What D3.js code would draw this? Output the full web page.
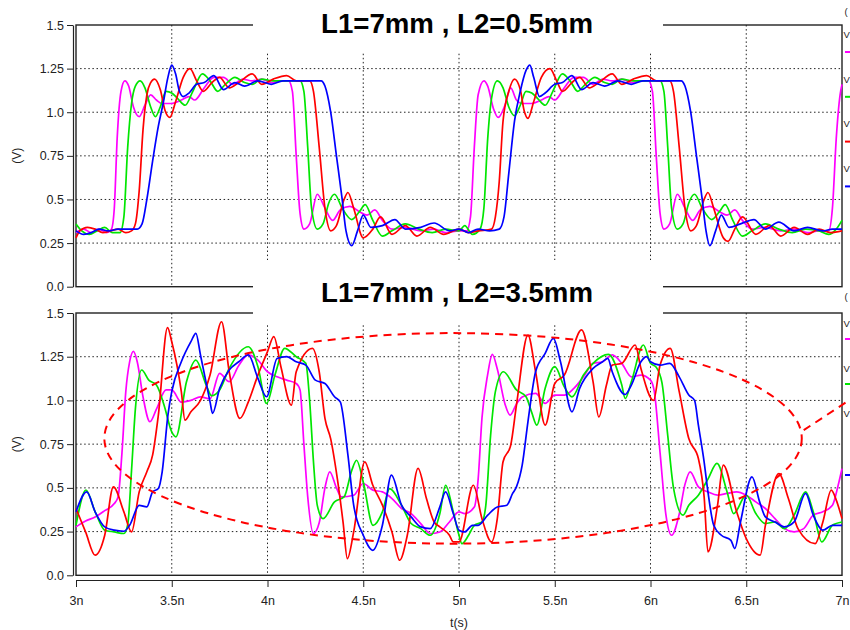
<!DOCTYPE html>
<html><head><meta charset="utf-8">
<script src="https://cdn.jsdelivr.net/npm/d3@7"></script>
<style>body{margin:0;background:#fff}svg{display:block}</style>
</head><body>
<svg id="c" width="850" height="630"></svg>
<script>
// ---------- DATA ----------
const titles = ["L1=7mm , L2=0.5mm", "L1=7mm , L2=3.5mm"];
const seriesNames = ["V1", "V2", "V3", "V4"];
const seriesColors = ["#ff00ff", "#00e600", "#ff0000", "#0000ff"];
const xTicks = [3, 3.5, 4, 4.5, 5, 5.5, 6, 6.5, 7];
const xTickLabels = ["3n", "3.5n", "4n", "4.5n", "5n", "5.5n", "6n", "6.5n", "7n"];
const yTicks = [0, 0.25, 0.5, 0.75, 1.0, 1.25, 1.5];
const yTickLabels = ["0.0", "0.25", "0.5", "0.75", "1.0", "1.25", "1.5"];
const xLabel = "t(s)";
const yLabel = "(V)";

// top panel (L2 = 0.5mm): [time ns, volts]
const topMagenta = [[3.00,0.31],[3.04,0.33],[3.08,0.31],[3.12,0.33],[3.16,0.31],[3.185,0.33],[3.20,0.45],[3.215,0.85],[3.235,1.12],[3.255,1.18],[3.275,1.15],[3.30,1.03],[3.33,0.975],[3.36,1.04],[3.39,1.10],[3.42,1.07],[3.45,1.05],[3.50,1.05],[3.55,1.07],[3.59,1.09],[3.62,1.07],[3.67,1.14],[3.72,1.20],[3.77,1.20],[3.82,1.16],[3.87,1.19],[3.92,1.18],[3.97,1.19],[4.02,1.17],[4.07,1.18],[4.11,1.18],[4.13,1.12],[4.15,0.75],[4.17,0.42],[4.19,0.33],[4.22,0.36],[4.26,0.53],[4.30,0.45],[4.34,0.38],[4.38,0.44],[4.43,0.46],[4.48,0.43],[4.52,0.41],[4.56,0.44],[4.60,0.38],[4.65,0.33],[4.72,0.34],[4.80,0.32],[4.87,0.33],[4.93,0.31],[5.00,0.32],[5.04,0.32],[5.06,0.40],[5.08,0.80],[5.10,1.10],[5.13,1.18],[5.15,1.15],[5.18,1.02],[5.205,0.97],[5.24,1.04],[5.27,1.14],[5.30,1.07],[5.33,1.05],[5.38,1.05],[5.43,1.07],[5.47,1.09],[5.50,1.07],[5.55,1.14],[5.60,1.20],[5.65,1.20],[5.70,1.16],[5.75,1.19],[5.80,1.18],[5.85,1.19],[5.90,1.17],[5.95,1.18],[5.99,1.18],[6.01,1.12],[6.03,0.75],[6.05,0.42],[6.07,0.33],[6.10,0.36],[6.14,0.53],[6.18,0.45],[6.22,0.38],[6.26,0.44],[6.31,0.46],[6.36,0.43],[6.40,0.41],[6.44,0.44],[6.48,0.38],[6.53,0.33],[6.60,0.34],[6.68,0.32],[6.75,0.33],[6.82,0.31],[6.88,0.32],[6.93,0.32],[6.95,0.45],[6.97,0.85],[6.99,1.10],[7.00,1.16]];
const topGreen = [[3.00,0.36],[3.03,0.32],[3.07,0.30],[3.11,0.32],[3.15,0.34],[3.19,0.31],[3.23,0.31],[3.25,0.40],[3.27,0.80],[3.29,1.05],[3.31,1.15],[3.335,1.18],[3.36,1.14],[3.39,1.03],[3.415,0.975],[3.44,1.03],[3.47,1.12],[3.50,1.11],[3.53,1.08],[3.57,1.04],[3.61,1.12],[3.66,1.22],[3.70,1.18],[3.74,1.12],[3.78,1.16],[3.83,1.20],[3.88,1.17],[3.92,1.16],[3.97,1.19],[4.03,1.18],[4.10,1.18],[4.17,1.18],[4.19,1.12],[4.21,0.80],[4.23,0.45],[4.26,0.33],[4.29,0.36],[4.32,0.48],[4.35,0.53],[4.39,0.45],[4.44,0.385],[4.48,0.43],[4.51,0.47],[4.55,0.38],[4.60,0.29],[4.65,0.32],[4.72,0.36],[4.79,0.33],[4.86,0.31],[4.93,0.33],[5.00,0.32],[5.03,0.35],[5.07,0.30],[5.11,0.33],[5.13,0.45],[5.15,0.85],[5.17,1.08],[5.20,1.18],[5.23,1.14],[5.26,1.03],[5.29,0.98],[5.32,1.04],[5.35,1.12],[5.38,1.11],[5.41,1.08],[5.45,1.04],[5.49,1.12],[5.54,1.22],[5.58,1.18],[5.62,1.12],[5.66,1.16],[5.71,1.20],[5.76,1.17],[5.80,1.16],[5.85,1.19],[5.91,1.18],[5.98,1.18],[6.05,1.18],[6.07,1.12],[6.09,0.80],[6.11,0.45],[6.14,0.33],[6.17,0.36],[6.20,0.48],[6.23,0.53],[6.27,0.45],[6.32,0.385],[6.36,0.43],[6.39,0.47],[6.43,0.38],[6.48,0.29],[6.53,0.32],[6.60,0.36],[6.67,0.33],[6.74,0.31],[6.81,0.33],[6.88,0.32],[6.93,0.30],[6.97,0.33],[7.00,0.38]];
const topRed = [[3.00,0.28],[3.02,0.32],[3.06,0.34],[3.10,0.33],[3.14,0.31],[3.18,0.32],[3.22,0.33],[3.26,0.31],[3.29,0.32],[3.31,0.36],[3.33,0.55],[3.35,0.90],[3.37,1.10],[3.39,1.17],[3.41,1.19],[3.44,1.13],[3.465,1.01],[3.49,0.97],[3.52,1.06],[3.56,1.20],[3.595,1.25],[3.63,1.18],[3.665,1.12],[3.71,1.17],[3.75,1.20],[3.80,1.14],[3.85,1.17],[3.92,1.22],[3.97,1.16],[4.03,1.19],[4.10,1.21],[4.15,1.18],[4.22,1.18],[4.24,1.12],[4.27,0.80],[4.30,0.45],[4.33,0.32],[4.36,0.35],[4.40,0.50],[4.42,0.54],[4.45,0.45],[4.50,0.28],[4.55,0.33],[4.59,0.40],[4.65,0.30],[4.72,0.35],[4.78,0.29],[4.85,0.34],[4.92,0.30],[5.00,0.33],[5.05,0.31],[5.10,0.32],[5.17,0.33],[5.19,0.40],[5.21,0.60],[5.23,0.95],[5.26,1.12],[5.29,1.19],[5.32,1.13],[5.34,1.01],[5.36,0.965],[5.39,1.06],[5.43,1.20],[5.475,1.25],[5.51,1.18],[5.54,1.12],[5.59,1.17],[5.63,1.20],[5.68,1.14],[5.73,1.17],[5.80,1.22],[5.85,1.16],[5.91,1.19],[5.98,1.21],[6.03,1.18],[6.10,1.18],[6.12,1.12],[6.15,0.80],[6.18,0.45],[6.21,0.32],[6.24,0.35],[6.28,0.50],[6.30,0.54],[6.33,0.45],[6.38,0.28],[6.405,0.26],[6.44,0.33],[6.48,0.40],[6.55,0.30],[6.62,0.35],[6.68,0.29],[6.75,0.34],[6.82,0.30],[6.88,0.33],[6.94,0.31],[7.00,0.32]];
const topBlue = [[3.00,0.32],[3.04,0.30],[3.08,0.31],[3.12,0.33],[3.17,0.32],[3.22,0.33],[3.27,0.33],[3.32,0.33],[3.345,0.36],[3.37,0.50],[3.40,0.72],[3.43,0.92],[3.455,1.05],[3.48,1.20],[3.50,1.27],[3.52,1.22],[3.54,1.12],[3.56,1.09],[3.59,1.11],[3.63,1.16],[3.67,1.17],[3.72,1.21],[3.77,1.13],[3.83,1.17],[3.88,1.15],[3.95,1.18],[4.02,1.16],[4.08,1.18],[4.15,1.18],[4.22,1.18],[4.28,1.18],[4.30,1.15],[4.33,1.00],[4.36,0.75],[4.39,0.50],[4.41,0.32],[4.44,0.235],[4.47,0.32],[4.50,0.41],[4.54,0.34],[4.60,0.35],[4.665,0.385],[4.72,0.33],[4.80,0.34],[4.87,0.365],[4.95,0.32],[5.00,0.33],[5.05,0.31],[5.10,0.33],[5.16,0.32],[5.21,0.33],[5.235,0.40],[5.26,0.65],[5.29,0.95],[5.32,1.12],[5.35,1.24],[5.37,1.27],[5.39,1.20],[5.42,1.09],[5.45,1.11],[5.50,1.16],[5.54,1.17],[5.59,1.21],[5.64,1.13],[5.70,1.17],[5.76,1.15],[5.83,1.18],[5.90,1.16],[5.96,1.18],[6.03,1.18],[6.10,1.18],[6.16,1.18],[6.18,1.15],[6.21,1.00],[6.24,0.75],[6.27,0.50],[6.29,0.32],[6.31,0.235],[6.34,0.32],[6.37,0.41],[6.41,0.34],[6.47,0.36],[6.54,0.385],[6.60,0.33],[6.67,0.37],[6.75,0.32],[6.82,0.34],[6.90,0.32],[6.95,0.33],[7.00,0.33]];

// bottom panel (L2 = 3.5mm)
const botMagenta = [[3.00,0.277],[3.05,0.31],[3.10,0.334],[3.15,0.37],[3.20,0.41],[3.22,0.45],[3.24,0.70],[3.26,1.05],[3.28,1.22],[3.30,1.28],[3.32,1.22],[3.35,1.02],[3.386,0.878],[3.42,0.95],[3.47,1.06],[3.50,1.06],[3.55,0.99],[3.60,1.00],[3.65,1.02],[3.70,1.01],[3.75,1.155],[3.80,1.107],[3.85,1.20],[3.90,1.26],[3.95,1.23],[4.00,1.164],[4.05,1.135],[4.10,1.116],[4.15,1.097],[4.17,1.06],[4.19,0.75],[4.21,0.45],[4.24,0.239],[4.27,0.30],[4.30,0.50],[4.325,0.592],[4.36,0.50],[4.386,0.448],[4.45,0.458],[4.50,0.525],[4.55,0.487],[4.60,0.477],[4.65,0.439],[4.70,0.382],[4.75,0.353],[4.80,0.296],[4.85,0.239],[4.90,0.248],[4.95,0.305],[5.00,0.363],[5.03,0.353],[5.08,0.39],[5.10,0.55],[5.12,0.90],[5.15,1.15],[5.174,1.263],[5.20,1.18],[5.24,0.98],[5.267,0.916],[5.30,0.98],[5.33,1.02],[5.40,1.04],[5.45,0.983],[5.50,1.03],[5.55,1.03],[5.60,1.069],[5.65,1.135],[5.70,1.212],[5.75,1.221],[5.80,1.26],[5.85,1.212],[5.90,1.135],[5.95,1.145],[6.00,1.116],[6.02,1.05],[6.05,0.70],[6.08,0.35],[6.11,0.229],[6.15,0.35],[6.18,0.52],[6.207,0.592],[6.25,0.506],[6.30,0.477],[6.35,0.458],[6.40,0.468],[6.45,0.477],[6.50,0.458],[6.55,0.42],[6.60,0.382],[6.65,0.324],[6.70,0.267],[6.75,0.248],[6.80,0.267],[6.85,0.344],[6.90,0.363],[6.95,0.40],[6.98,0.515],[7.00,0.61]];
const botGreen = [[3.00,0.286],[3.052,0.487],[3.10,0.363],[3.15,0.258],[3.20,0.248],[3.25,0.239],[3.27,0.29],[3.29,0.60],[3.31,0.95],[3.343,1.174],[3.38,1.116],[3.42,1.088],[3.46,0.973],[3.50,0.82],[3.522,0.792],[3.577,1.107],[3.626,1.231],[3.68,1.088],[3.708,1.027],[3.75,1.06],[3.80,1.183],[3.90,1.307],[3.95,1.193],[3.995,0.983],[4.04,1.15],[4.09,1.298],[4.15,1.25],[4.20,1.212],[4.22,1.0],[4.24,0.65],[4.26,0.40],[4.29,0.324],[4.35,0.42],[4.40,0.448],[4.44,0.60],[4.465,0.658],[4.50,0.534],[4.551,0.286],[4.60,0.363],[4.638,0.496],[4.70,0.40],[4.75,0.296],[4.80,0.267],[4.85,0.229],[4.90,0.353],[4.93,0.515],[4.97,0.363],[5.00,0.229],[5.015,0.181],[5.05,0.229],[5.08,0.286],[5.12,0.305],[5.14,0.40],[5.165,0.80],[5.19,1.05],[5.232,1.164],[5.30,1.06],[5.35,1.021],[5.38,0.93],[5.406,0.859],[5.45,1.07],[5.50,1.193],[5.55,1.078],[5.59,1.02],[5.65,1.145],[5.70,1.212],[5.78,1.263],[5.85,1.088],[5.868,1.011],[5.90,1.107],[5.963,1.317],[6.00,1.212],[6.03,1.19],[6.06,1.10],[6.09,0.80],[6.12,0.50],[6.17,0.344],[6.20,0.40],[6.25,0.458],[6.30,0.55],[6.347,0.64],[6.40,0.477],[6.434,0.353],[6.50,0.458],[6.55,0.353],[6.60,0.296],[6.65,0.305],[6.70,0.267],[6.75,0.344],[6.81,0.477],[6.85,0.363],[6.895,0.191],[6.95,0.286],[7.00,0.305]];
const botRed = [[3.00,0.382],[3.05,0.248],[3.10,0.115],[3.15,0.229],[3.195,0.506],[3.25,0.363],[3.29,0.248],[3.33,0.477],[3.37,0.592],[3.40,0.687],[3.43,0.916],[3.478,1.416],[3.50,1.336],[3.55,1.05],[3.569,0.887],[3.60,0.935],[3.65,1.0],[3.70,1.145],[3.76,1.45],[3.80,1.164],[3.856,0.897],[3.90,0.992],[3.95,1.145],[4.00,1.279],[4.033,1.365],[4.07,1.193],[4.125,0.973],[4.15,1.164],[4.235,1.298],[4.27,1.164],[4.30,0.897],[4.33,0.78],[4.365,0.55],[4.395,0.30],[4.417,0.095],[4.45,0.248],[4.508,0.649],[4.55,0.515],[4.60,0.401],[4.65,0.248],[4.69,0.086],[4.73,0.229],[4.786,0.611],[4.83,0.439],[4.87,0.305],[4.90,0.277],[4.95,0.229],[4.97,0.191],[5.00,0.191],[5.075,0.515],[5.12,0.324],[5.17,0.191],[5.20,0.324],[5.23,0.649],[5.27,0.744],[5.30,0.973],[5.36,1.374],[5.40,1.164],[5.45,0.859],[5.50,1.097],[5.55,1.145],[5.64,1.403],[5.70,1.107],[5.73,0.906],[5.77,1.088],[5.80,1.202],[5.85,1.212],[5.92,1.317],[5.95,1.183],[6.016,1.0],[6.05,1.202],[6.103,1.298],[6.15,1.05],[6.20,0.782],[6.25,0.668],[6.28,0.45],[6.30,0.134],[6.35,0.40],[6.38,0.63],[6.45,0.363],[6.50,0.21],[6.573,0.115],[6.60,0.286],[6.67,0.582],[6.72,0.439],[6.77,0.267],[6.86,0.181],[6.90,0.305],[6.944,0.487],[6.97,0.43],[7.00,0.324]];
const botBlue = [[3.00,0.363],[3.056,0.477],[3.10,0.363],[3.15,0.277],[3.20,0.258],[3.25,0.252],[3.28,0.286],[3.33,0.40],[3.37,0.391],[3.40,0.477],[3.43,0.496],[3.45,0.592],[3.48,0.916],[3.50,1.05],[3.55,1.221],[3.60,1.336],[3.626,1.384],[3.65,1.26],[3.70,0.992],[3.713,0.926],[3.75,1.069],[3.80,1.174],[3.85,1.221],[3.90,1.26],[3.95,1.126],[3.995,1.021],[4.05,1.24],[4.10,1.25],[4.15,1.221],[4.20,1.202],[4.25,1.116],[4.30,1.097],[4.35,1.021],[4.38,0.992],[4.42,0.687],[4.45,0.401],[4.50,0.229],[4.55,0.143],[4.60,0.286],[4.647,0.573],[4.70,0.401],[4.75,0.334],[4.80,0.277],[4.85,0.267],[4.90,0.391],[4.93,0.477],[4.97,0.353],[5.00,0.258],[5.03,0.248],[5.07,0.286],[5.10,0.286],[5.15,0.344],[5.20,0.391],[5.25,0.401],[5.28,0.468],[5.30,0.506],[5.33,0.63],[5.36,0.878],[5.40,1.164],[5.45,1.269],[5.493,1.355],[5.53,1.221],[5.59,0.935],[5.63,1.069],[5.70,1.183],[5.75,1.221],[5.777,1.24],[5.80,1.164],[5.868,1.034],[5.90,1.088],[5.95,1.221],[5.98,1.25],[6.00,1.221],[6.05,1.202],[6.10,1.212],[6.15,1.135],[6.20,1.031],[6.23,1.0],[6.25,0.859],[6.28,0.649],[6.30,0.477],[6.33,0.286],[6.37,0.229],[6.42,0.20],[6.44,0.153],[6.47,0.305],[6.53,0.563],[6.57,0.42],[6.60,0.334],[6.65,0.305],[6.70,0.277],[6.75,0.305],[6.81,0.468],[6.85,0.344],[6.90,0.258],[6.95,0.286],[7.00,0.286]];

// dashed annotation ellipse in bottom panel: centre (ns, V) and radii (ns, V)
const ellipseCenter = [4.969, 0.783];
const ellipseRadii = [1.821, 0.602];
const annotationLine = [[6.80, 0.83], [7.05, 1.01]];

// ---------- DRAW ----------
const svg = d3.select("#c");
const X0 = 76, X1 = 842;
const x = d3.scaleLinear().domain([3, 7]).range([X0, X1]);
const panels = [
  { y: d3.scaleLinear().domain([0, 1.5]).range([286.7, 25]), series: [topMagenta, topGreen, topRed, topBlue], title: titles[0] },
  { y: d3.scaleLinear().domain([0, 1.5]).range([575.3, 313]), series: [botMagenta, botGreen, botRed, botBlue], title: titles[1] }
];
const gridX = xTicks.filter(d => d > 3 && d < 7);
const gridY = yTicks.filter(d => d > 0 && d < 1.5);
const txtFont = "'Liberation Sans', Arial, sans-serif";

panels.forEach((p, pi) => {
  const g = svg.append("g");
  const [yb, yt] = p.y.range();
  // grid
  g.selectAll(".gx").data(gridX).join("line")
    .attr("x1", d => x(d)).attr("x2", d => x(d)).attr("y1", yt).attr("y2", yb)
    .attr("stroke", "#222").attr("stroke-width", 1).attr("stroke-dasharray", "1.5,2.6");
  g.selectAll(".gy").data(gridY).join("line")
    .attr("x1", X0).attr("x2", X1).attr("y1", d => p.y(d)).attr("y2", d => p.y(d))
    .attr("stroke", "#222").attr("stroke-width", 1).attr("stroke-dasharray", "1.5,2.6");
  // frame
  g.append("rect").attr("x", X0).attr("y", yt).attr("width", X1 - X0).attr("height", yb - yt)
    .attr("fill", "none").attr("stroke", "#222").attr("stroke-width", 1.4);
  // y axis
  const ax = g.append("g").attr("transform", "translate(73,0)")
    .call(d3.axisLeft(p.y).tickValues(yTicks).tickFormat((d, i) => yTickLabels[i]).tickSize(6).tickSizeOuter(0).tickPadding(3));
  ax.select(".domain").attr("stroke", "#222").attr("stroke-width", 1.2);
  ax.selectAll(".tick line").attr("stroke", "#222");
  ax.selectAll("text").attr("font-family", txtFont).attr("font-size", 12.5).attr("fill", "#222");
  // y label
  g.append("text").attr("transform", `translate(21,${(yt + yb) / 2}) rotate(-90)`)
    .attr("text-anchor", "middle").attr("font-family", txtFont).attr("font-size", 12).attr("fill", "#222").text(yLabel);
  // series
  const line = d3.line().x(d => x(d[0])).y(d => p.y(d[1])).curve(d3.curveMonotoneX);
  p.series.forEach((s, si) => {
    g.append("path").attr("d", line(s)).attr("fill", "none")
      .attr("stroke", seriesColors[si]).attr("stroke-width", 1.7).attr("stroke-linejoin", "round");
  });
});

// bottom x axis
const xa = svg.append("g").attr("transform", "translate(0,580)")
  .call(d3.axisBottom(x).tickValues(xTicks).tickFormat((d, i) => xTickLabels[i]).tickSize(7).tickSizeOuter(0).tickPadding(9));
xa.select(".domain").attr("stroke", "#222").attr("stroke-width", 1.2);
xa.selectAll(".tick line").attr("stroke", "#222");
xa.selectAll("text").attr("font-family", txtFont).attr("font-size", 12.5).attr("fill", "#222");
svg.append("text").attr("x", x(5)).attr("y", 627).attr("text-anchor", "middle")
  .attr("font-family", txtFont).attr("font-size", 12.5).attr("fill", "#222").text(xLabel);

// annotation ellipse
const yb2 = panels[1].y;
const ell = svg.append("g");
ell.append("ellipse")
  .attr("cx", x(ellipseCenter[0])).attr("cy", yb2(ellipseCenter[1]))
  .attr("rx", x(ellipseCenter[0] + ellipseRadii[0]) - x(ellipseCenter[0]))
  .attr("ry", yb2(ellipseCenter[1]) - yb2(ellipseCenter[1] + ellipseRadii[1]))
  .attr("fill", "none").attr("stroke", "#ff0000").attr("stroke-width", 2).attr("stroke-dasharray", "8,6");
ell.append("path").attr("d", d3.line().x(d => x(d[0])).y(d => yb2(d[1]))(annotationLine))
  .attr("fill", "none").attr("stroke", "#ff0000").attr("stroke-width", 2).attr("stroke-dasharray", "8,6");

// title boxes
const tb = [[253, 0, 410, 53], [253, 260, 410, 63]];
tb.forEach((b, i) => {
  svg.append("rect").attr("x", b[0]).attr("y", b[1]).attr("width", b[2]).attr("height", b[3]).attr("fill", "#fff");
});
[[457, 32.5], [457, 301.5]].forEach((pos, i) => {
  svg.append("text").attr("x", pos[0]).attr("y", pos[1]).attr("text-anchor", "middle")
    .attr("font-family", txtFont).attr("font-weight", "bold").attr("font-size", 28)
    .attr("textLength", 272).attr("lengthAdjust", "spacingAndGlyphs")
    .attr("fill", "#000").text(titles[i]);
});

// legend stubs at right edge
const lt = svg.append("g").attr("font-family", txtFont).attr("font-size", 9.5).attr("fill", "#222");
lt.append("text").attr("x", 844.5).attr("y", 15).text("(");
[0, 1, 2, 3].forEach(i => {
  lt.append("text").attr("x", 843.5).attr("y", 38 + i * 44.5).text("V");
  svg.append("line").attr("x1", 845).attr("x2", 850).attr("y1", 52 + i * 44.8).attr("y2", 52 + i * 44.8)
    .attr("stroke", seriesColors[i]).attr("stroke-width", 2);
});
lt.append("text").attr("x", 844.5).attr("y", 300).text("(");
[0, 1, 2].forEach(i => {
  lt.append("text").attr("x", 843.5).attr("y", 327 + i * 45).text("V");
});
[[0, 339], [1, 384], [3, 475]].forEach(([i, yy]) => {
  svg.append("line").attr("x1", 845).attr("x2", 850).attr("y1", yy).attr("y2", yy)
    .attr("stroke", seriesColors[i]).attr("stroke-width", 2);
});
</script>
</body></html>
